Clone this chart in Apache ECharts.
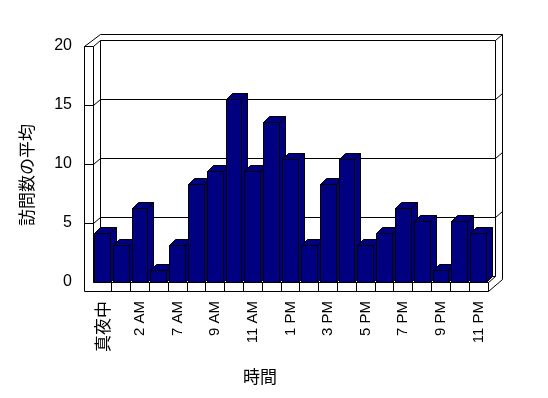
<!DOCTYPE html>
<html>
<head>
<meta charset="utf-8">
<script src="https://cdn.jsdelivr.net/npm/echarts@6/dist/echarts.min.js"></script>
<style>
html, body { margin: 0; padding: 0; background: #fff; }
#main { width: 548px; height: 398px; }
</style>
</head>
<body>
<div id="main"></div>
<script>
// 時間帯ごとの訪問数の平均
var categories = ['真夜中', '1 AM', '2 AM', '6 AM', '7 AM', '8 AM', '9 AM', '10 AM', '11 AM', '正午',
	'1 PM', '2 PM', '3 PM', '4 PM', '5 PM', '6 PM', '7 PM', '8 PM', '9 PM', '10 PM', '11 PM'];
var visits = [4.1, 3.1, 6.2, 1.0, 3.1, 8.3, 9.4, 15.5, 9.4, 13.5,
	10.4, 3.1, 8.3, 10.4, 3.1, 4.1, 6.2, 5.1, 1.0, 5.1, 4.1];
var yTicks = [0, 5, 10, 15, 20];
var yMax = 20;

var FONT = "'Liberation Sans', 'Noto Sans CJK JP', sans-serif";
var CJK = "'Noto Sans CJK JP', sans-serif";

// 奥行き (walls / bars)
var DX = 7, DY = -6, T = 9;
var BDX = 6, BDY = -6;
var BAR_COLOR = '#000080';

// 1px の線をくっきり
function px(v) {
	return Math.round(v - 0.5) + 0.5;
}

function ln(x1, y1, x2, y2) {
	return {
		type : 'line',
		shape : { x1 : px(x1), y1 : px(y1), x2 : px(x2), y2 : px(y2) },
		style : { stroke : '#000', lineWidth : 1 }
	};
}

function renderFrame(params, api) {
	var bw = api.size([1, 0])[0];
	var p0 = api.coord([0, 0]);
	var left = p0[0] - bw / 2;
	var right = left + bw * categories.length;
	var base = p0[1];
	var top = api.coord([0, yMax])[1];
	var c = [];

	// outer outline
	var outline = [[left - T, top], [left + DX, top + 2 * DY], [right + 2 * DX, top + 2 * DY],
		[right + 2 * DX, base + T + 2 * DY], [right, base + T], [left - T, base + T]];
	c.push({
		type : 'polygon',
		shape : { points : outline.map(function(p) { return [px(p[0]), px(p[1])]; }) },
		style : { fill : '#fff', stroke : '#000', lineWidth : 1 }
	});
	c.push(ln(left - T, top, left, top));
	c.push(ln(left, top, left, base));
	c.push(ln(left, top, left + DX, top + DY));
	c.push(ln(left + DX, top + DY, right + DX, top + DY));
	c.push(ln(right + DX, top + DY, right + 2 * DX, top + 2 * DY));
	c.push(ln(left + DX, top + DY, left + DX, base + DY));
	c.push(ln(right + DX, top + DY, right + DX, base + DY));
	c.push(ln(left + DX, base + DY, right + DX, base + DY));

	// gridlines on the walls
	yTicks.forEach(function(v) {
		if (v == 0 || v == yMax) return;
		var y = api.coord([0, v])[1];
		c.push(ln(left - T, y, left, y));
		c.push(ln(left, y, left + DX, y + DY));
		c.push(ln(left + DX, y + DY, right + DX, y + DY));
		c.push(ln(right + DX, y + DY, right + 2 * DX, y + 2 * DY));
	});

	// floor
	c.push(ln(left, base, right, base));
	c.push(ln(left, base, left + DX, base + DY));
	c.push(ln(right, base, right + DX, base + DY));
	c.push(ln(right, base, right, base + T));
	for (var i = 1; i < categories.length; i++) {
		var x = left + bw * i;
		c.push(ln(x, base, x, base + T));
	}
	return { type : 'group', children : c };
}

function renderBar(params, api) {
	var bw = api.size([1, 0])[0] * 0.84;
	var p = api.coord([api.value(0), api.value(1)]);
	var b = api.coord([api.value(0), 0]);
	var x = px(p[0] - bw / 2), x2 = px(p[0] + bw / 2), y = px(p[1]), yb = px(b[1]);
	var st = { fill : BAR_COLOR, stroke : '#000', lineWidth : 1 };
	return {
		type : 'group',
		children : [{
			type : 'polygon',
			shape : { points : [[x2, y], [x2 + BDX, y + BDY], [x2 + BDX, yb + BDY], [x2, yb]] },
			style : st
		}, {
			type : 'polygon',
			shape : { points : [[x, y], [x + BDX, y + BDY], [x2 + BDX, y + BDY], [x2, y]] },
			style : st
		}, {
			type : 'rect',
			shape : { x : x, y : y, width : x2 - x, height : yb - y },
			style : st
		}]
	};
}

var chart = echarts.init(document.getElementById('main'), null, { renderer : 'canvas' });

chart.setOption({
	animation : false,
	backgroundColor : '#fff',
	grid : { left : 93, right : 60, top : 46, bottom : 116 },
	xAxis : {
		type : 'category',
		data : categories,
		axisLine : { show : false },
		axisTick : { show : false },
		splitLine : { show : false },
		axisLabel : {
			interval : 1,
			rotate : 90,
			margin : 19,
			color : '#000',
			fontSize : 15,
			fontFamily : FONT,
			formatter : function(v) {
				return /[^\x00-\x7f]/.test(v) ? '{j|' + v + '}' : v;
			},
			rich : { j : { fontSize : 17, fontFamily : CJK, color : '#000' } }
		}
	},
	yAxis : {
		type : 'value',
		min : 0,
		max : yMax,
		interval : 5,
		axisLine : { show : false },
		axisTick : { show : false },
		splitLine : { show : false },
		axisLabel : { margin : 21, color : '#000', fontSize : 16, fontFamily : FONT }
	},
	graphic : [{
		type : 'text',
		x : 27,
		y : 175,
		rotation : Math.PI / 2,
		style : { text : '訪問数の平均', fontSize : 17, fontFamily : CJK, fill : '#000', align : 'center', verticalAlign : 'middle' }
	}, {
		type : 'text',
		x : 260,
		y : 377,
		style : { text : '時間', fontSize : 17, fontFamily : CJK, fill : '#000', align : 'center', verticalAlign : 'middle' }
	}],
	series : [{
		type : 'custom',
		renderItem : renderFrame,
		data : [[0, 0]],
		silent : true,
		z : 1
	}, {
		type : 'custom',
		renderItem : renderBar,
		data : visits.map(function(v, i) { return [i, v]; }),
		z : 2
	}]
});
</script>
</body>
</html>
